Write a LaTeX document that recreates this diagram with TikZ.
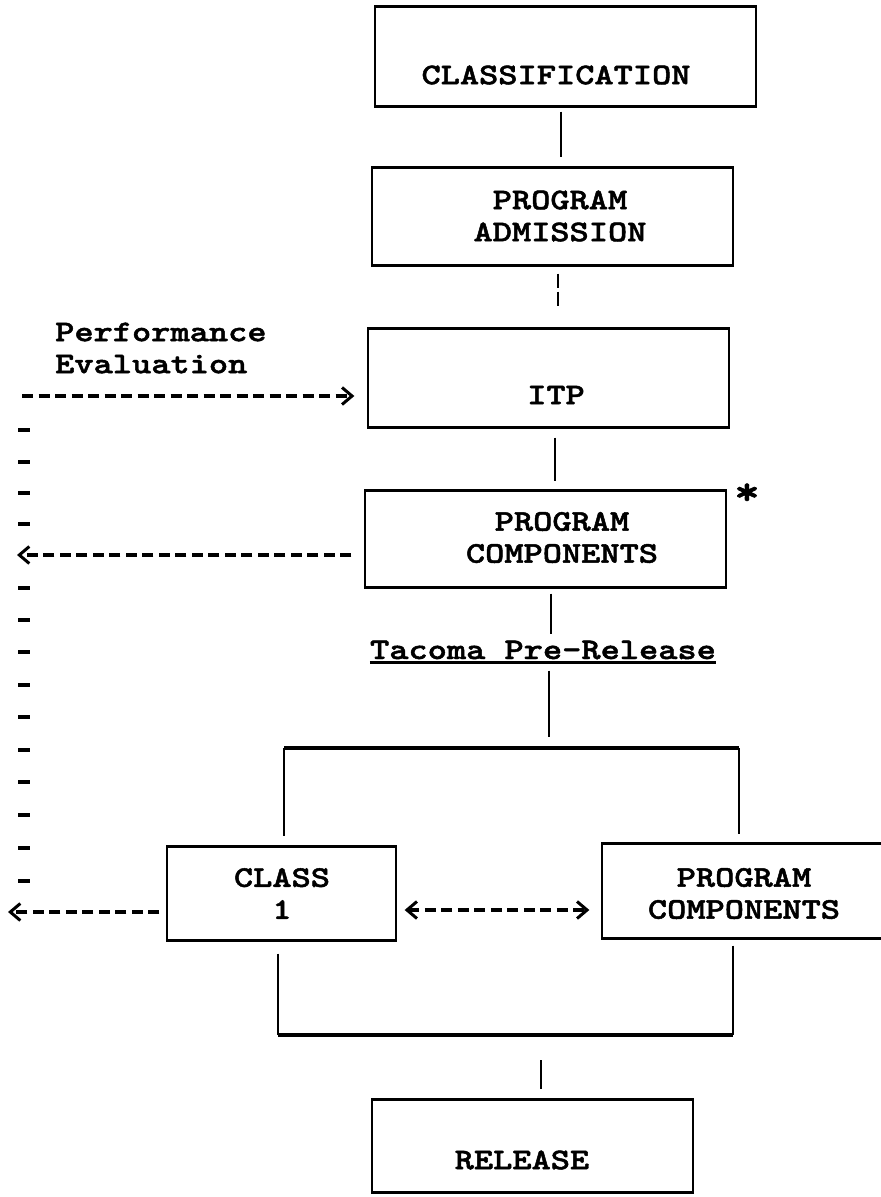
\documentclass[tikz,border=0pt]{standalone}
\usepackage{fontspec}
\newfontfamily\tw{lmmonolt10-bold.otf}[FakeStretch=1.22,FakeBold=1.6]
\usetikzlibrary{arrows.meta,calc}
\tikzset{
  box/.style={draw, line width=1.3pt, rectangle, inner sep=0pt},
  hedge/.style={line width=3.2pt},
  vline/.style={line width=1.5pt},
  txt/.style={font=\tw\fontsize{30}{32}\selectfont, inner sep=0pt, align=center},
  darrow/.style={line width=4pt, dash pattern=on 11pt off 5.5pt,
    >={Straight Barb[length=10pt,width=17pt,line width=3pt]}},
}
\newcommand\tbedges[1]{%
  \draw[hedge] (#1.north west) -- (#1.north east);
  \draw[hedge] (#1.south west) -- (#1.south east);}
\begin{document}
\begin{tikzpicture}[x=1pt,y=-1pt]
\useasboundingbox (0,0) rectangle (881,1197);
\fill[white] (0,0) rectangle (881,1197);
\clip (0,0) rectangle (881,1197);

% boxes
\node[box, minimum width=381pt, minimum height=99pt] (cls) at (565.5,56.5) {};
\node[box, minimum width=361pt, minimum height=97pt] (pa) at (552.5,216.5) {};
\node[box, minimum width=361pt, minimum height=98pt] (itp) at (548.5,378) {};
\node[box, minimum width=361pt, minimum height=96pt] (pc) at (545.5,539) {};
\node[box, minimum width=229pt, minimum height=93pt] (c1) at (281.5,893.5) {};
\node[box, minimum width=400pt, minimum height=94pt] (pc2) at (802,891) {};
\node[box, minimum width=321pt, minimum height=92pt] (rel) at (532.5,1146) {};
\tbedges{cls}\tbedges{pa}\tbedges{itp}\tbedges{pc}\tbedges{c1}\tbedges{pc2}\tbedges{rel}

% texts
\node[txt] (clsT) at (556,75) {CLASSIFICATION};
\node[txt] (paT) at (560,216) {PROGRAM\\ADMISSION};
\node[txt] (itpT) at (556,395) {ITP};
\node[txt, align=left, anchor=west] (perf) at (55,348) {Performance\\Evaluation};
\node[txt] (pcT) at (562,537.5) {PROGRAM\\COMPONENTS};
\node[txt, font=\tw\fontsize{40}{40}\selectfont] (star) at (747,494) {*};
\node[txt] (tac) at (543,650) {Tacoma Pre-Release};
\draw[line width=3pt] ([yshift=-3pt]tac.base west) -- ([yshift=-3pt]tac.base east);
\node[txt] (c1T) at (282,893.5) {CLASS\\1};
\node[txt] (pc2T) at (744,893.5) {PROGRAM\\COMPONENTS};
\node[txt] (relT) at (522,1160) {RELEASE};

% vertical connectors
\draw[vline, shorten <=5pt, shorten >=10pt] ([xshift=-4.5pt]cls.south) -- ([xshift=8.5pt]pa.north);
\draw[vline, dash pattern=on 14pt off 4pt, shorten <=8pt, shorten >=19pt] ([xshift=5.5pt]pa.south) -- ([xshift=9.5pt]itp.north);
\draw[vline, shorten <=10pt, shorten >=9pt] ([xshift=6.5pt]itp.south) -- ([xshift=9.5pt]pc.north);
\draw[vline, shorten <=6pt, shorten >=6pt] ([xshift=5.5pt]pc.south) -- ([xshift=8pt]tac.north);

% upper bracket
\coordinate (brL) at (284,748);
\coordinate (brR) at (739,748);
\coordinate (brM) at (549,748);
\draw[vline, shorten <=11pt, shorten >=11pt] ([xshift=6pt]tac.south) -- (brM);
\draw[hedge] (brL) -- (brR);
\draw[vline, shorten >=10pt] (brL) -- (brL |- c1.north);
\draw[vline, shorten >=9pt] (brR) -- (brR |- pc2.north);

% lower bracket
\coordinate (bbL) at (278,1035);
\coordinate (bbR) at (733,1035);
\coordinate (bbM) at (541,1035);
\draw[vline, shorten <=13pt] (bbL |- c1.south) -- (bbL);
\draw[vline, shorten <=7pt] (bbR |- pc2.south) -- (bbR);
\draw[hedge] (bbL) -- (bbR);
\draw[vline, shorten <=25pt, shorten >=10pt] (bbM) -- (bbM |- rel.north);

% feedback loop
\coordinate (loopTop) at (22,396);
\coordinate (loopA) at (17,555);
\coordinate (loopB) at (8,912);
\coordinate (mid) at (497,910);
\draw[darrow, ->, shorten >=13pt] (loopTop) -- (itp.west |- loopTop);
\draw[darrow, ->, shorten <=13pt] (pc.west |- loopA) -- (loopA);
\draw[darrow, ->, shorten <=7pt] (c1.west |- loopB) -- (loopB);
\draw[darrow, <->, shorten <=8pt, shorten >=12pt] (c1.east |- mid) -- (pc2.west |- mid);
\foreach \yy in {430,462,493,524,588,620,652,685,717,750,782,815,848,881}
  \fill (18,\yy-2) rectangle (30,\yy+2);
\end{tikzpicture}
\end{document}
